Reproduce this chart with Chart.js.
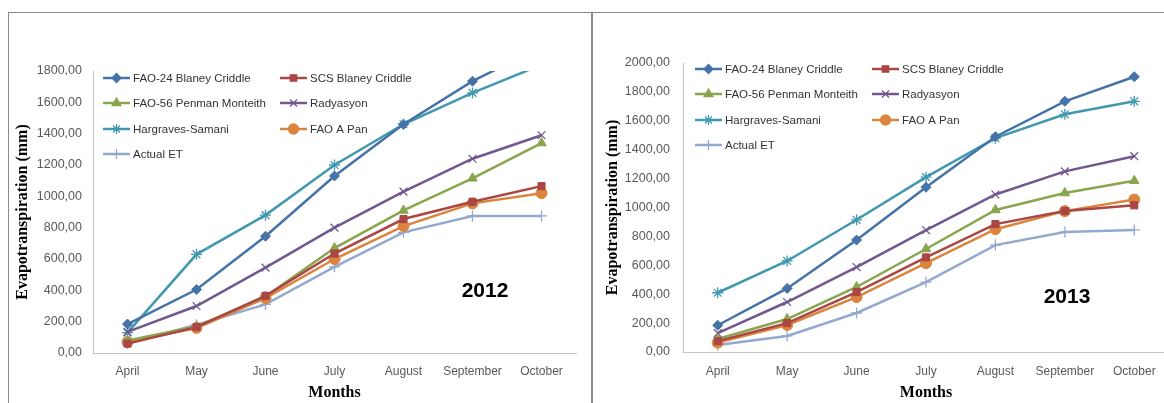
<!DOCTYPE html>
<html>
<head>
<meta charset="utf-8">
<script src="https://cdn.jsdelivr.net/npm/chart.js@4/dist/chart.umd.min.js"></script>
<style>
  body { margin: 0; background: #fff; overflow: hidden; width: 1164px; height: 403px; position: relative; }
  .panel { position: absolute; top: 12px; height: 400px; border: 1px solid #8a8a8a; background: #fff; }
  #p1 { left: 8px; width: 582px; }
  #p2 { left: 592px; width: 600px; }
  canvas { position: absolute; left: 0; top: 0; }
</style>
</head>
<body>
<div class="panel" id="p1"><canvas id="c2012" width="582" height="390"></canvas></div>
<div class="panel" id="p2"><canvas id="c2013" width="590" height="390"></canvas></div>
<script>
const months = ['April', 'May', 'June', 'July', 'August', 'September', 'October'];
const seriesNames = ['FAO-24 Blaney Criddle', 'SCS Blaney Criddle', 'FAO-56 Penman Monteith', 'Radyasyon', 'Hargraves-Samani', 'FAO A Pan', 'Actual ET'];

// 2012
const blaney24_2012 = [185, 405, 745, 1130, 1460, 1735, 1955];
const scsBlaney_2012 = [60, 165, 365, 635, 855, 965, 1065];
const penman56_2012 = [80, 170, 360, 670, 910, 1115, 1340];
const radyasyon_2012 = [135, 300, 545, 800, 1030, 1240, 1390];
const hargraves_2012 = [130, 630, 880, 1200, 1460, 1660, 1840];
const faoPan_2012 = [70, 160, 350, 600, 810, 955, 1020];
const actualET_2012 = [60, 180, 310, 550, 770, 875, 875];

// 2013
const blaney24_2013 = [185, 440, 775, 1140, 1490, 1735, 1905];
const scsBlaney_2013 = [75, 200, 415, 655, 885, 975, 1015];
const penman56_2013 = [90, 228, 450, 713, 983, 1100, 1185];
const radyasyon_2013 = [130, 346, 588, 844, 1090, 1250, 1355];
const hargraves_2013 = [410, 630, 915, 1210, 1480, 1645, 1735];
const faoPan_2013 = [65, 187, 380, 615, 850, 975, 1055];
const actualET_2013 = [48, 111, 270, 484, 740, 830, 845];

const yMax2012 = 1800;
const yMax2013 = 2000;

const colors = ['#4572A7', '#AA4643', '#89A54E', '#71588F', '#4198AF', '#DB843D', '#93A9CF'];
const styles = ['rectRot', 'rect', 'triangle', 'crossRot', 'star', 'circle', 'cross'];
const radii = [5, 5, 5.5, 5.5, 5.5, 5.5, 5.5];

function makeDatasets(arrays) {
    return arrays.map((data, i) => ({
        label: seriesNames[i],
        data: data,
        borderColor: colors[i],
        backgroundColor: colors[i],
        pointBackgroundColor: colors[i],
        pointBorderColor: colors[i],
        pointStyle: styles[i],
        pointRadius: radii[i],
        pointBorderWidth: (styles[i] === 'crossRot' || styles[i] === 'star' || styles[i] === 'cross') ? 1.3 : 1,
        borderWidth: 2.5,
        tension: 0,
        fill: false
    }));
}

function drawMarker(ctx, i, x, y) {
    ctx.save();
    ctx.fillStyle = colors[i];
    ctx.strokeStyle = colors[i];
    ctx.lineWidth = 1.3;
    Chart.helpers.drawPoint(ctx, { pointStyle: styles[i], radius: radii[i] - 0.5, rotation: 0, borderWidth: 1.3 }, x, y);
    ctx.restore();
}

// legend inside the plot + year label
function overlayPlugin(cfg) {
    return {
        id: 'overlay',
        afterDatasetsDraw(chart) {
            const ctx = chart.ctx;
            ctx.save();
            ctx.font = '11.5px "Liberation Sans", Arial, sans-serif';
            ctx.textBaseline = 'middle';
            ctx.textAlign = 'left';
            seriesNames.forEach((name, i) => {
                const col = i % 2, row = Math.floor(i / 2);
                const x0 = cfg.cols[col];
                const y = cfg.rows[row];
                ctx.strokeStyle = colors[i];
                ctx.lineWidth = 2.5;
                ctx.beginPath();
                ctx.moveTo(x0, y);
                ctx.lineTo(x0 + 27, y);
                ctx.stroke();
                drawMarker(ctx, i, x0 + 13.5, y);
                ctx.fillStyle = '#333333';
                ctx.fillText(name, x0 + 30, y + 1);
            });
            ctx.font = 'bold 21px "Liberation Sans", Arial, sans-serif';
            ctx.fillStyle = '#000';
            ctx.textAlign = 'center';
            ctx.fillText(cfg.year, cfg.yearX, cfg.yearY);
            ctx.restore();
        }
    };
}

function makeChart(id, arrays, yMax, box) {
    return new Chart(document.getElementById(id), {
        type: 'line',
        data: { labels: months, datasets: makeDatasets(arrays) },
        options: {
            responsive: false,
            animation: false,
            layout: { padding: { top: box.top, right: box.right, left: 0, bottom: 0 } },
            plugins: { legend: { display: false }, tooltip: { enabled: false } },
            scales: {
                x: {
                    offset: true,
                    grid: { display: false, drawTicks: false },
                    border: { display: true, color: '#c4c4c4', width: 1 },
                    ticks: { color: '#595959', font: { family: '"Liberation Sans", Arial, sans-serif', size: 12 }, padding: box.xPad, maxRotation: 0, autoSkip: false },
                    title: { display: true, text: 'Months', color: '#000', font: { family: '"Liberation Serif", "Times New Roman", serif', size: 16, weight: 'bold' }, padding: { top: 0, bottom: 1 } },
                    afterFit: (scale) => { scale.height = box.xh; }
                },
                y: {
                    min: 0,
                    max: yMax,
                    grid: { display: false, drawTicks: false },
                    border: { display: true, color: '#c4c4c4', width: 1 },
                    ticks: {
                        stepSize: 200,
                        color: '#595959',
                        font: { family: '"Liberation Sans", Arial, sans-serif', size: 12.5 },
                        padding: box.yPad,
                        callback: (v) => v.toFixed(2).replace('.', ',')
                    },
                    title: { display: true, text: 'Evapotranspiration (mm)', color: '#000', font: { family: '"Liberation Serif", "Times New Roman", serif', size: 16, weight: 'bold' }, padding: { top: box.titlePad, bottom: 0 } },
                    afterFit: (scale) => { scale.width = box.yw; }
                }
            }
        },
        plugins: [overlayPlugin(box.overlay)]
    });
}

makeChart('c2012',
    [blaney24_2012, scsBlaney_2012, penman56_2012, radyasyon_2012, hargraves_2012, faoPan_2012, actualET_2012],
    yMax2012,
    { top: 58, right: 15, xh: 50, yw: 84, xPad: 11, yPad: 11, titlePad: 4,
      overlay: { cols: [94, 271], rows: [65, 90, 116, 141], year: '2012', yearX: 476, yearY: 278 } });

makeChart('c2013',
    [blaney24_2013, scsBlaney_2013, penman56_2013, radyasyon_2013, hargraves_2013, faoPan_2013, actualET_2013],
    yMax2013,
    { top: 50, right: 14, xh: 51, yw: 90, xPad: 12, yPad: 13, titlePad: 10,
      overlay: { cols: [102, 279], rows: [56, 81, 107, 132], year: '2013', yearX: 474, yearY: 284 } });
</script>
</body>
</html>
